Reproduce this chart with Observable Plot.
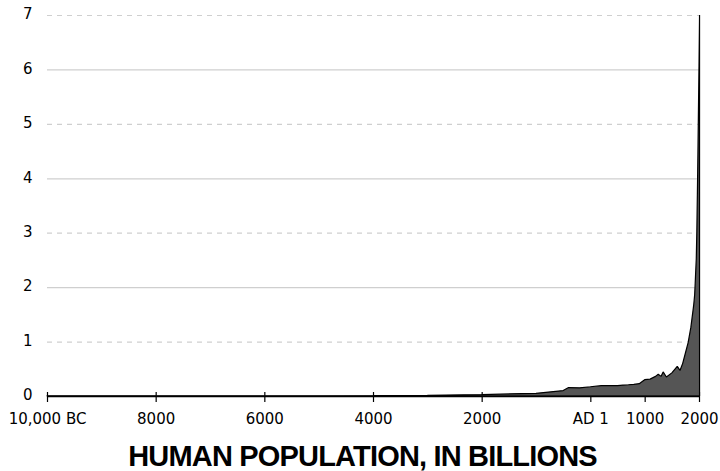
<!DOCTYPE html>
<html>
<head>
<meta charset="utf-8">
<script src="https://cdn.jsdelivr.net/npm/d3@7"></script>
<script src="https://cdn.jsdelivr.net/npm/@observablehq/plot@0.6"></script>
<style>
  html, body { margin: 0; padding: 0; background: #fff; }
  #chart svg { display: block; }
</style>
</head>
<body>
<div id="chart"></div>
<script>
// Year (negative = BC) and world population in billions
const years = [-10000, -8000, -6500, -5000, -4000, -3000, -2000, -1000, -500, -400, -200, 1,
  200, 400, 500, 600, 700, 800, 900, 1000, 1100, 1200, 1250, 1300, 1340, 1400, 1500,
  1600, 1650, 1700, 1750, 1800, 1850, 1900, 1910, 1920, 1930, 1940, 1950, 1960, 1970,
  1980, 1990, 2000, 2010];
const population = [0.004, 0.005, 0.005, 0.005, 0.007, 0.014, 0.027, 0.05, 0.1, 0.155, 0.15, 0.17,
  0.19, 0.19, 0.19, 0.2, 0.207, 0.215, 0.226, 0.3, 0.31, 0.36, 0.4, 0.36, 0.443, 0.35, 0.425,
  0.545, 0.47, 0.6, 0.79, 0.98, 1.26, 1.65, 1.75, 1.86, 2.07, 2.3, 2.52, 3.02, 3.7,
  4.44, 5.27, 6.06, 7.0];
const xTicks = [-10000, -8000, -6000, -4000, -2000, 0, 1000, 2000];
const xTickLabels = ["10,000 BC", "8000", "6000", "4000", "2000", "AD 1", "1000", "2000"];
const yTicks = [0, 1, 2, 3, 4, 5, 6, 7];
const title = "HUMAN POPULATION, IN BILLIONS";

const data = years.map((y, i) => ({year: y, pop: population[i]}));
const labelOf = new Map(xTicks.map((t, i) => [t, xTickLabels[i]]));
const gridSolid = yTicks.filter(v => v > 0 && v % 2 === 0);
const gridDashed = yTicks.filter(v => v % 2 === 1);

const chart = Plot.plot({
  width: 720,
  height: 471,
  marginLeft: 47,
  marginRight: 21,
  marginTop: 15,
  marginBottom: 75,
  style: {fontFamily: "DejaVu Sans", fontSize: "15px", color: "#000", background: "#fff"},
  x: {domain: [-10000, 2000]},
  y: {domain: [0, 7]},
  marks: [
    Plot.ruleY(gridSolid, {y: d => d, stroke: "#cfcfcf", strokeWidth: 1.2}),
    Plot.ruleY(gridDashed, {y: d => d, stroke: "#cfcfcf", strokeWidth: 1.2, strokeDasharray: "5,5"}),
    Plot.ruleX(xTicks, {x: d => d, y1: 0, y2: 0, insetTop: 6, insetBottom: 4, stroke: "#000", strokeWidth: 1.2}),
    Plot.areaY(data, {x: "year", y: "pop", fill: "#555555", stroke: "#000", strokeWidth: 1.2, strokeLinejoin: "miter"}),
    Plot.ruleY([0], {stroke: "#000", strokeWidth: 1.6}),
    Plot.axisY(yTicks, {tickSize: 0, tickPadding: 15, fontSize: 15, dy: -1, label: null, tickFormat: d => String(d)}),
    Plot.axisX(xTicks, {tickSize: 0, tickPadding: 17, fontSize: 15, label: null, tickFormat: d => labelOf.get(d)}),
    Plot.text([title], {frameAnchor: "bottom", dy: 60, dx: -11, text: d => d, fontSize: 29, fontWeight: "bold",
      fontFamily: "Liberation Sans", fill: "#000", lineAnchor: "middle"})
  ]
});
d3.select(chart).selectAll("text")
  .filter(function () { return this.textContent === title; })
  .attr("letter-spacing", "-0.82px");
document.getElementById("chart").append(chart);
</script>
</body>
</html>
